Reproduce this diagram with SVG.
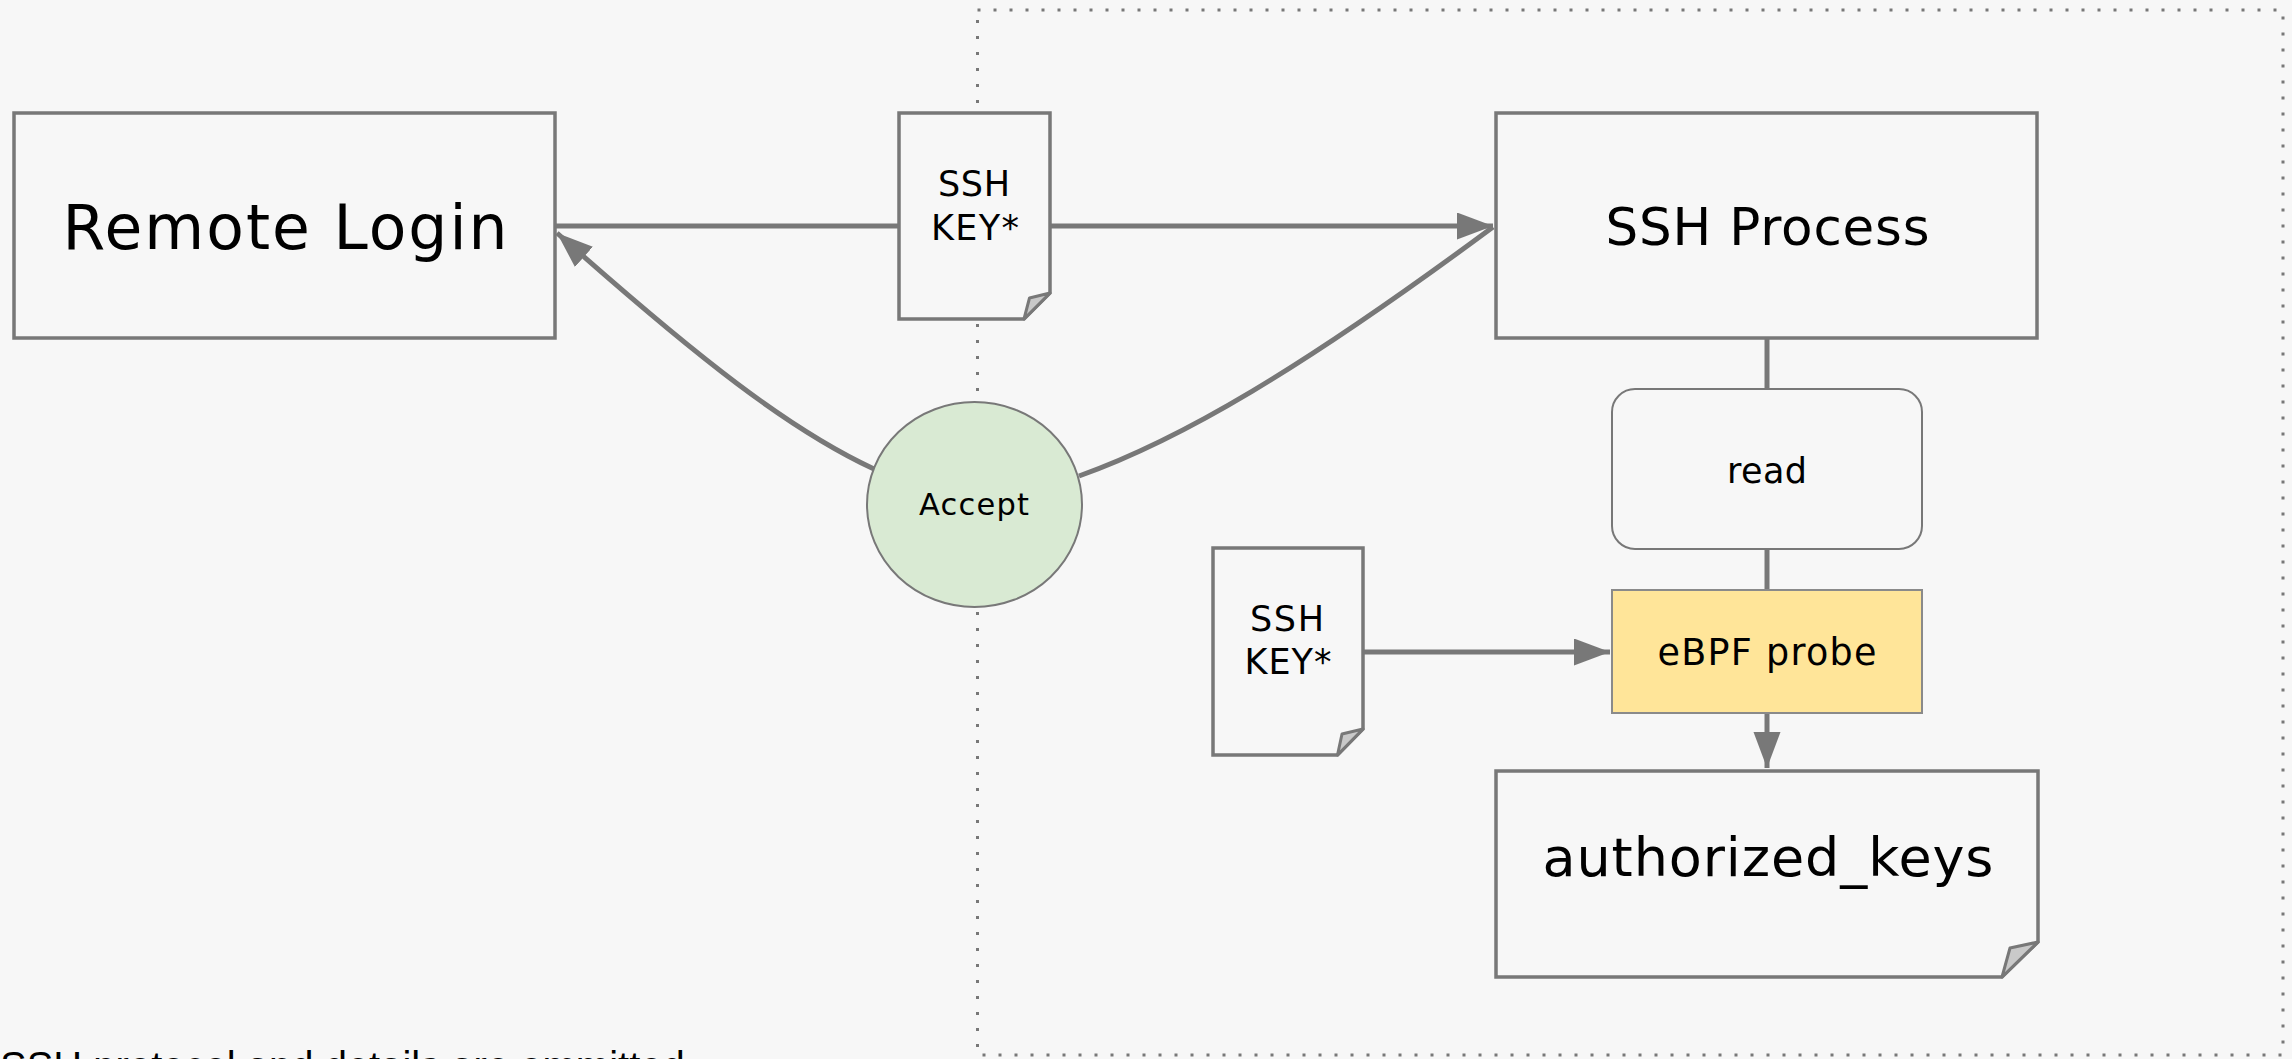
<svg xmlns="http://www.w3.org/2000/svg" width="2292" height="1059" viewBox="0 0 2292 1059">
  <style>
    .box { fill: #f7f7f7; stroke: #787878; stroke-width: 3.5; }
    .thin { stroke-width: 2; }
    .fold { fill: #c9c9c9; stroke: #787878; stroke-width: 3; stroke-linejoin: round; }
    .lbl { font-family: "DejaVu Sans", Inter, sans-serif; fill: #000; text-anchor: middle; }
    .conn { fill: none; stroke: #787878; stroke-width: 5; }
    .zone { fill: none; stroke: #787878; stroke-width: 3; stroke-dasharray: 3 13; }
    .note { font-family: "Liberation Sans", Arial, sans-serif; font-size: 40px; fill: #000; }
  </style>
  <defs>
    <marker id="arrow" markerUnits="userSpaceOnUse" markerWidth="40" markerHeight="30" refX="36" refY="13.5" orient="auto">
      <path d="M0,0 L36,13.5 L0,27 Z" fill="#787878"/>
    </marker>
  </defs>

  <rect width="2292" height="1059" fill="#f7f7f7"/>

  <!-- host boundary -->
  <rect class="zone" x="977.5" y="10" width="1305.5" height="1045"/>

  <g id="connectors">
    <line class="conn" x1="555" y1="226" x2="899" y2="226"/>
    <line class="conn" x1="1050" y1="226" x2="1493" y2="226" marker-end="url(#arrow)"/>
    <path class="conn" d="M874,469 C790,430 700,360 557,233" marker-end="url(#arrow)"/>
    <path class="conn" d="M1079,476 C1180,440 1300,370 1493,227"/>
    <line class="conn" x1="1767" y1="338" x2="1767" y2="389"/>
    <line class="conn" x1="1767" y1="549" x2="1767" y2="590"/>
    <line class="conn" x1="1767" y1="713" x2="1767" y2="768" marker-end="url(#arrow)"/>
    <line class="conn" x1="1363" y1="652" x2="1610" y2="652" marker-end="url(#arrow)"/>
  </g>

  <g id="remote-login">
    <rect class="box" x="14" y="113" width="541" height="225"/>
    <text class="lbl" x="285" y="249" font-size="61.5" textLength="445">Remote Login</text>
  </g>

  <g id="ssh-key-in">
    <path class="box" d="M899,113 H1050 V293 L1024,319 H899 Z"/>
    <path class="fold" d="M1050,293 L1029.5,298 L1024,319 Z"/>
    <text class="lbl" x="974" y="196" font-size="35" textLength="72">SSH</text>
    <text class="lbl" x="975" y="240" font-size="35" textLength="88">KEY*</text>
  </g>

  <g id="accept">
    <ellipse cx="974.5" cy="504.5" rx="107.5" ry="102.5" fill="#d9ead3" stroke="#787878" stroke-width="2"/>
    <text class="lbl" x="974" y="515" font-size="30.5" textLength="110">Accept</text>
  </g>

  <g id="ssh-process">
    <rect class="box" x="1496" y="113" width="541" height="225"/>
    <text class="lbl" x="1767.5" y="245" font-size="51.5" textLength="324">SSH Process</text>
  </g>

  <g id="read">
    <rect class="box thin" x="1612" y="389" width="310" height="160" rx="23" ry="23"/>
    <text class="lbl" x="1767" y="483" font-size="35" textLength="80">read</text>
  </g>

  <g id="ssh-key-local">
    <path class="box" d="M1213,548 H1363 V729 L1337.5,755 H1213 Z"/>
    <path class="fold" d="M1363,729 L1342,734 L1337.5,755 Z"/>
    <text class="lbl" x="1287" y="631" font-size="35" textLength="74">SSH</text>
    <text class="lbl" x="1288" y="674" font-size="35" textLength="87">KEY*</text>
  </g>

  <g id="ebpf-probe">
    <rect x="1612" y="590" width="310" height="123" fill="#ffe599" stroke="#8a8a8a" stroke-width="2"/>
    <text class="lbl" x="1767" y="665" font-size="36.5" textLength="219">eBPF probe</text>
  </g>

  <g id="authorized-keys">
    <path class="box" d="M1496,771 H2038 V942 L2002,977 H1496 Z"/>
    <path class="fold" d="M2038,942 L2010,948 L2002,977 Z"/>
    <text class="lbl" x="1768" y="876" font-size="54" textLength="451">authorized_keys</text>
  </g>

  <text class="note" x="0" y="1080">SSH protocol and details are ommitted</text>
</svg>
